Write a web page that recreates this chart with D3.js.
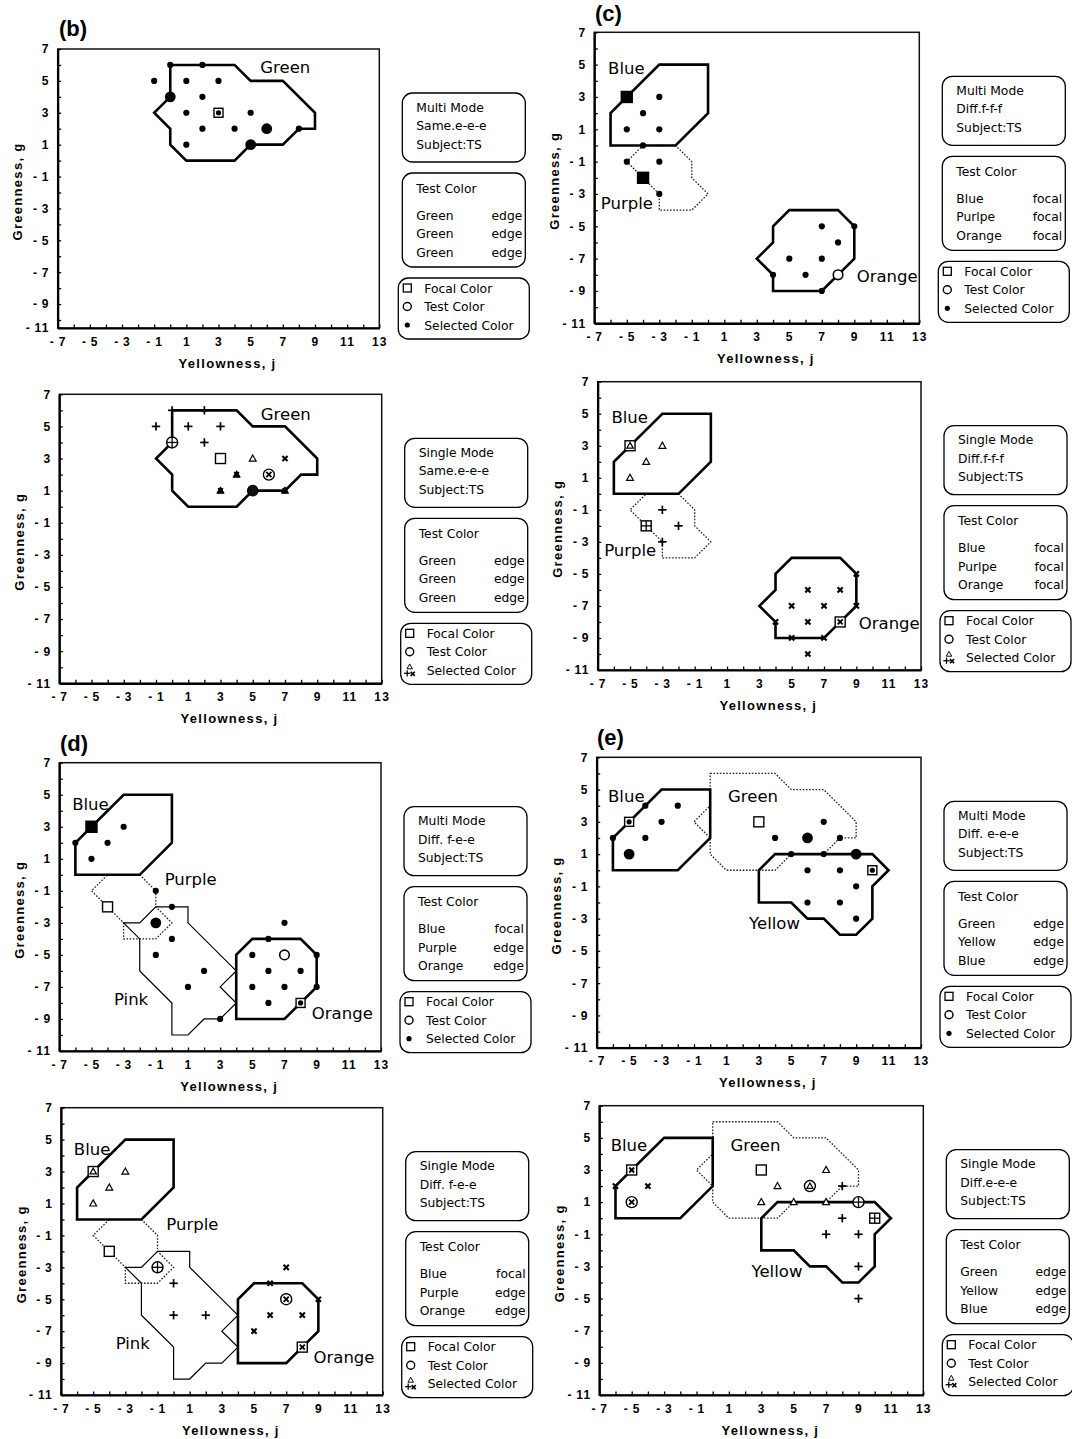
<!DOCTYPE html>
<html><head><meta charset="utf-8">
<script src="https://cdn.jsdelivr.net/npm/d3@7"></script>
<style>
body{margin:0;background:#fff;}
svg{display:block;}
</style></head><body>
<svg id="fig" width="1072" height="1439"></svg>
<script>
// ---------------- DATA ----------------
const X_TICKS = d3.range(-7, 14);                 // every integer on j axis
const X_TICK_LABELS = [-7,-5,-3,-1,1,3,5,7,9,11,13];
const Y_TICK_LABELS = [7,5,3,1,-1,-3,-5,-7,-9,-11];

// colour-category regions (j, g)
const GREEN_REGION  = [[0,6],[4,6],[5,5],[7,5],[9,3],[9,2],[8,2],[7,1],[5,1],[4,0],[1,0],[0,1],[0,2],[-1,3],[0,4]];
const BLUE_REGION   = [[-3,5],[0,5],[0,2],[-2,0],[-6,0],[-6,2]];
const PURPLE_REGION = [[-4,0],[-2,0],[-1,-1],[-1,-2],[0,-3],[-1,-4],[-3,-4],[-3,-3],[-4,-2],[-5,-1]];
const ORANGE_REGION = [[5,-4],[8,-4],[9,-5],[9,-7],[7,-9],[4,-9],[4,-8],[3,-7],[4,-6],[4,-5]];
const ORANGE_REGION_D = [[5,-4],[8,-4],[9,-5],[9,-7],[7,-9],[4,-9],[4,-5]];
const PINK_REGION   = [[-1,-2],[1,-2],[1,-3],[4,-6],[3,-7],[4,-8],[3,-9],[2,-9],[1,-10],[0,-10],[0,-8],[-2,-6],[-2,-4],[-3,-3],[-2,-3]];
const YELLOW_REGION = [[4,1],[10,1],[11,0],[10,-1],[10,-3],[9,-4],[8,-4],[7,-3],[6,-3],[5,-2],[3,-2],[3,0]];

// points: [j, g, marker]
const POINTS_B_MULTI = [[0,6,'dot'],[2,6,'dot'],[-1,5,'dot'],[1,5,'dot'],[3,5,'dot'],[0,4,'big'],[2,4,'dot'],[1,3,'dot'],[3,3,'sqdot'],[5,3,'dot'],[2,2,'dot'],[4,2,'dot'],[6,2,'big'],[8,2,'dot'],[1,1,'dot'],[5,1,'big']];
const POINTS_B_SINGLE = [[0,6,'plus'],[2,6,'plus'],[-1,5,'plus'],[1,5,'plus'],[3,5,'plus'],[2,4,'plus'],[0,4,'ringplus'],[3,3,'sq'],[5,3,'tri'],[7,3,'x'],[4,2,'trix'],[6,2,'ringx'],[3,1,'trix'],[5,1,'ringdark'],[7,1,'trix']];
const POINTS_C_MULTI = [[-5,3,'sqfill'],[-3,3,'dot'],[-4,2,'dot'],[-5,1,'dot'],[-3,1,'dot'],[-4,0,'dot'],[-5,-1,'dot'],[-3,-1,'dot'],[-4,-2,'sqfill'],[-3,-3,'dot'],[7,-5,'dot'],[9,-5,'dot'],[8,-6,'dot'],[5,-7,'dot'],[7,-7,'dot'],[4,-8,'dot'],[6,-8,'dot'],[8,-8,'ring'],[7,-9,'dot']];
const POINTS_C_SINGLE = [[-5,3,'sqtri'],[-3,3,'tri'],[-4,2,'tri'],[-5,1,'tri'],[-3,-1,'plus'],[-4,-2,'sqplus'],[-2,-2,'plus'],[-3,-3,'plus'],[9,-5,'x'],[6,-6,'x'],[8,-6,'x'],[5,-7,'x'],[7,-7,'x'],[9,-7,'x'],[4,-8,'x'],[6,-8,'x'],[8,-8,'sqx'],[5,-9,'x'],[7,-9,'x'],[6,-10,'x']];
const POINTS_D_MULTI = [[-5,3,'sqfill'],[-6,2,'dot'],[-4,2,'dot'],[-3,3,'dot'],[-5,1,'dot'],[-1,-1,'dot'],[-4,-2,'sq'],[-1,-3,'big'],[0,-2,'dot'],[0,-4,'dot'],[-1,-5,'dot'],[2,-6,'dot'],[1,-7,'dot'],[3,-9,'dot'],[7,-3,'dot'],[6,-4,'dot'],[5,-5,'dot'],[7,-5,'ring'],[9,-5,'dot'],[6,-6,'dot'],[8,-6,'dot'],[5,-7,'dot'],[7,-7,'dot'],[9,-7,'dot'],[6,-8,'dot'],[8,-8,'sqdot']];
const POINTS_D_SINGLE = [[-5,3,'sqtri'],[-3,3,'tri'],[-4,2,'tri'],[-5,1,'tri'],[-4,-2,'sq'],[-1,-3,'ringplus'],[0,-4,'plus'],[0,-6,'plus'],[2,-6,'plus'],[7,-3,'x'],[6,-4,'x'],[7,-5,'ringx'],[9,-5,'x'],[6,-6,'x'],[8,-6,'x'],[5,-7,'x'],[8,-8,'sqx']];
const POINTS_E_MULTI = [[-6,2,'dot'],[-4,4,'dot'],[-5,3,'sqdot'],[-3,3,'dot'],[-2,4,'dot'],[-4,2,'dot'],[-5,1,'big'],[3,3,'sq'],[4,2,'dot'],[6,2,'big'],[7,3,'dot'],[8,2,'dot'],[5,1,'dot'],[7,1,'dot'],[9,1,'big'],[6,0,'dot'],[8,0,'dot'],[10,0,'sqdot'],[9,-1,'dot'],[6,-2,'dot'],[8,-2,'dot'],[9,-3,'dot']];
const POINTS_E_SINGLE = [[-5,3,'sqx'],[-6,2,'x'],[-4,2,'x'],[-5,1,'ringx'],[3,3,'sq'],[4,2,'tri'],[3,1,'tri'],[6,2,'ringtri'],[7,3,'tri'],[5,1,'tri'],[7,1,'tri'],[8,2,'plus'],[9,1,'ringplus'],[8,0,'plus'],[10,0,'sqplus'],[7,-1,'plus'],[9,-1,'plus'],[9,-3,'plus'],[9,-5,'plus']];

// region name labels [text, j, g(baseline)]
const LABELS_B1 = [["Green",5.6,5.5]];
const LABELS_B2 = [["Green",5.5,5.4]];
const LABELS_C  = [["Blue",-6.15,4.4],["Purple",-6.6,-3.9],["Orange",9.15,-8.45]];
const LABELS_D  = [["Blue",-6.2,4.05],["Purple",-0.45,-0.65],["Pink",-3.6,-8.1],["Orange",8.7,-9.0]];
const LABELS_E  = [["Blue",-6.3,4.2],["Green",1.1,4.2],["Yellow",2.4,-3.67]];

// legend texts
const INFO_B_MULTI  = ["Multi Mode","Same.e-e-e","Subject:TS"];
const INFO_B_SINGLE = ["Single Mode","Same.e-e-e","Subject:TS"];
const INFO_C_MULTI  = ["Multi Mode","Diff.f-f-f","Subject:TS"];
const INFO_C_SINGLE = ["Single Mode","Diff.f-f-f","Subject:TS"];
const INFO_D_MULTI  = ["Multi Mode","Diff. f-e-e","Subject:TS"];
const INFO_D_SINGLE = ["Single Mode","Diff. f-e-e","Subject:TS"];
const INFO_E_MULTI  = ["Multi Mode","Diff. e-e-e","Subject:TS"];
const INFO_E_SINGLE = ["Single Mode","Diff.e-e-e","Subject:TS"];
const TEST_B = [["Green","edge"],["Green","edge"],["Green","edge"]];
const TEST_C = [["Blue","focal"],["Purlpe","focal"],["Orange","focal"]];
const TEST_D = [["Blue","focal"],["Purple","edge"],["Orange","edge"]];
const TEST_E = [["Green","edge"],["Yellow","edge"],["Blue","edge"]];
const KEY_LABELS = ["Focal Color","Test Color","Selected Color"];
const PANEL_LETTERS = ["(b)","(c)","(d)","(e)"];
const X_TITLE = "Yellowness, j";
const Y_TITLE = "Greenness, g";

// ---------------- LAYOUT ----------------
const layout = {
  b1:{x0:57.7,x1:379.3,yTop:49,yBot:328,yMin:-10.5},
  b2:{x0:59.3,x1:381.7,yTop:394.3,yBot:683.3,yMin:-11},
  c1:{x0:594.3,x1:919.3,yTop:32.3,yBot:323.3,yMin:-11},
  c2:{x0:597.7,x1:921,yTop:381.7,yBot:670,yMin:-11},
  d1:{x0:59.3,x1:381,yTop:762.7,yBot:1051,yMin:-11},
  d2:{x0:61,x1:382.7,yTop:1107.7,yBot:1395,yMin:-11},
  e1:{x0:596.7,x1:921,yTop:757.3,yBot:1047.7,yMin:-11},
  e2:{x0:599.3,x1:923.3,yTop:1105.7,yBot:1395,yMin:-11}
};
const letterPos = [[59,36],[595,21],[60,751],[597,745]];

const THICK = {stroke:'#000', width:2.6, dash:null};
const DOTTED = {stroke:'#222', width:1.3, dash:'1.6,1.6'};
const THIN = {stroke:'#000', width:1.2, dash:null};

const panels = [
  {id:'b1', regions:[[GREEN_REGION,THICK]], labels:LABELS_B1, pts:POINTS_B_MULTI, info:INFO_B_MULTI, test:TEST_B, single:false},
  {id:'b2', regions:[[GREEN_REGION,THICK]], labels:LABELS_B2, pts:POINTS_B_SINGLE, info:INFO_B_SINGLE, test:TEST_B, single:true},
  {id:'c1', regions:[[PURPLE_REGION,DOTTED],[BLUE_REGION,THICK],[ORANGE_REGION,THICK]], labels:LABELS_C, pts:POINTS_C_MULTI, info:INFO_C_MULTI, test:TEST_C, single:false},
  {id:'c2', regions:[[PURPLE_REGION,DOTTED],[BLUE_REGION,THICK],[ORANGE_REGION,THICK]], labels:LABELS_C, pts:POINTS_C_SINGLE, info:INFO_C_SINGLE, test:TEST_C, single:true},
  {id:'d1', regions:[[PURPLE_REGION,DOTTED],[PINK_REGION,THIN],[BLUE_REGION,THICK],[ORANGE_REGION_D,THICK]], labels:LABELS_D, pts:POINTS_D_MULTI, info:INFO_D_MULTI, test:TEST_D, single:false},
  {id:'d2', regions:[[PURPLE_REGION,DOTTED],[PINK_REGION,THIN],[BLUE_REGION,THICK],[ORANGE_REGION_D,THICK]], labels:LABELS_D, pts:POINTS_D_SINGLE, info:INFO_D_SINGLE, test:TEST_D, single:true},
  {id:'e1', regions:[[GREEN_REGION,DOTTED],[BLUE_REGION,THICK],[YELLOW_REGION,THICK]], labels:LABELS_E, pts:POINTS_E_MULTI, info:INFO_E_MULTI, test:TEST_E, single:false},
  {id:'e2', regions:[[GREEN_REGION,DOTTED],[BLUE_REGION,THICK],[YELLOW_REGION,THICK]], labels:LABELS_E, pts:POINTS_E_SINGLE, info:INFO_E_SINGLE, test:TEST_E, single:true}
];

const SANS = "'DejaVu Sans', Verdana, sans-serif";
const BOLD = "'Liberation Sans', Arial, sans-serif";
const svg = d3.select('#fig');
const lab = v => v < 0 ? "-\u2009" + (-v) : String(v);

function marker(g, type, cx, cy, scale) {
  const m = g.append('g').attr('transform', `translate(${cx},${cy})` + (scale ? ` scale(${scale})` : ''));
  const ln = (x1,y1,x2,y2,w) => m.append('line').attr('x1',x1).attr('y1',y1).attr('x2',x2).attr('y2',y2).attr('stroke','#000').attr('stroke-width',w);
  const tri = (s, fill, w) => m.append('path').attr('d',`M0,${-s}L${s*0.95},${s*0.7}L${-s*0.95},${s*0.7}Z`).attr('fill',fill).attr('stroke','#000').attr('stroke-width',w);
  const plus = (s,w) => { ln(-s,0,s,0,w); ln(0,-s,0,s,w); };
  const cross = (s,w) => { ln(-s,-s,s,s,w); ln(-s,s,s,-s,w); };
  const square = (s, fill) => m.append('rect').attr('x',-s/2).attr('y',-s/2).attr('width',s).attr('height',s).attr('fill',fill).attr('stroke','#000').attr('stroke-width',1.4);
  const circ = (r, fill, w) => m.append('circle').attr('r',r).attr('fill',fill).attr('stroke','#000').attr('stroke-width',w);
  switch (type) {
    case 'dot': circ(3.1,'#000',0); break;
    case 'big': circ(5.4,'#000',0); break;
    case 'ring': circ(4.8,'#fff',1.6); break;
    case 'ringdark': circ(5.2,'#111',1.2); break;
    case 'sq': square(10,'#fff'); break;
    case 'sqfill': square(11,'#000'); break;
    case 'sqdot': square(9,'#fff'); circ(2.6,'#000',0); break;
    case 'tri': tri(3.6,'#fff',1.2); break;
    case 'trix': tri(3.8,'#000',1); cross(2.4,1.6); break;
    case 'plus': plus(4.2,1.7); break;
    case 'x': cross(2.6,2.1); break;
    case 'ringplus': circ(5.5,'#fff',1.4); plus(5.5,1.3); break;
    case 'ringx': circ(5.5,'#fff',1.4); cross(2.6,1.8); break;
    case 'ringtri': circ(5.5,'#fff',1.4); tri(3.2,'#fff',1.2); break;
    case 'sqtri': square(10,'#fff'); tri(3.4,'#fff',1.2); break;
    case 'sqplus': square(10,'#fff'); plus(5,1.3); break;
    case 'sqx': square(10,'#fff'); cross(2.5,1.9); break;
  }
}

function drawPanel(p) {
  const L = layout[p.id];
  const x = d3.scaleLinear().domain([-7,13]).range([L.x0, L.x1]);
  const y = d3.scaleLinear().domain([L.yMin,7]).range([L.yBot, L.yTop]);
  const g = svg.append('g');

  // frame
  g.append('rect').attr('x',x(-7)).attr('y',y(7)).attr('width',x(13)-x(-7)).attr('height',y(L.yMin)-y(7))
    .attr('fill','none').attr('stroke','#111').attr('stroke-width',1.5);

  // regions
  const line = d3.line().x(d=>x(d[0])).y(d=>y(d[1])).curve(d3.curveLinearClosed);
  p.regions.forEach(([pts, st]) => {
    g.append('path').datum(pts).attr('d', line).attr('fill','none')
      .attr('stroke', st.stroke).attr('stroke-width', st.width)
      .attr('stroke-linejoin','miter').attr('stroke-dasharray', st.dash);
  });

  // region labels
  p.labels.forEach(([t,j,gv]) => {
    g.append('text').attr('x',x(j)).attr('y',y(gv)).text(t)
      .attr('font-family',SANS).attr('font-size',16.5).attr('fill','#000');
  });

  // points
  p.pts.forEach(([j,gv,type]) => marker(g, type, x(j), y(gv)));

  // axes
  const yVals = L.yMin === -11 ? d3.range(-11,8) : d3.range(-10,8).concat([L.yMin]);
  const yFmt = v => (v === L.yMin) ? lab(-11) : (Y_TICK_LABELS.includes(v) ? lab(v) : "");
  const ya = g.append('g').attr('transform',`translate(${x(-7)},0)`)
    .call(d3.axisLeft(y).tickValues(yVals).tickFormat(yFmt).tickSizeInner(-3.5).tickSizeOuter(0).tickPadding(8));
  const xa = g.append('g').attr('transform',`translate(0,${y(L.yMin)})`)
    .call(d3.axisBottom(x).tickValues(X_TICKS).tickFormat(v => X_TICK_LABELS.includes(v) ? lab(v) : "")
      .tickSizeInner(-3.5).tickSizeOuter(0).tickPadding(9));
  [ya, xa].forEach(a => {
    a.select('.domain').attr('stroke','#000').attr('stroke-width',2.2);
    a.selectAll('.tick line').attr('stroke','#000').attr('stroke-width',1.3);
    a.selectAll('text').attr('font-family',BOLD).attr('font-weight','bold').attr('font-size',12)
      .attr('letter-spacing','1.2px').attr('fill','#000');
  });

  // axis titles
  g.append('text').attr('x',(x(-7)+x(13))/2 + 9).attr('y',y(L.yMin)+39.5).attr('text-anchor','middle')
    .attr('font-family',BOLD).attr('font-weight','bold').attr('font-size',13).attr('letter-spacing','1.3px').text(X_TITLE);
  const yc = (y(7)+y(L.yMin))/2 + 3;
  g.append('text').attr('transform',`translate(${x(-7)-40},${yc}) rotate(-90)`).attr('text-anchor','middle')
    .attr('dy','0.35em')
    .attr('font-family',BOLD).attr('font-weight','bold').attr('font-size',13).attr('letter-spacing','1.3px').text(Y_TITLE);

  // legend boxes (layout relative to plot)
  const R = x(13), T = y(7);
  const box = (x0,y0,w,h) => g.append('rect').attr('x',x0).attr('y',y0).attr('width',w).attr('height',h)
      .attr('rx',10).attr('ry',10).attr('fill','none').attr('stroke','#000').attr('stroke-width',1.3);
  const txt = (tx,ty,t,anchor) => g.append('text').attr('x',tx).attr('y',ty).attr('text-anchor',anchor||'start')
      .attr('font-family',SANS).attr('font-size',12.3).attr('fill','#000').text(t);

  box(R+23, T+44, 123, 69);
  p.info.forEach((t,i) => txt(R+37, T+62.5+i*18.5, t));

  box(R+23, T+124, 123, 94);
  txt(R+37, T+143.5, "Test Color");
  p.test.forEach(([a,b],i) => { txt(R+37, T+170.5+i*18.5, a); txt(R+143, T+170.5+i*18.5, b, 'end'); });

  // key box
  const kg = g.append('g');
  const clipId = 'clip-' + p.id;
  g.append('clipPath').attr('id',clipId).append('rect').attr('x',R+19).attr('y',T+229).attr('width',131).attr('height',61);
  const kt = kg.append('g').attr('clip-path',`url(#${clipId})`);
  KEY_LABELS.forEach((t,i) => kt.append('text').attr('x',R+45).attr('y',T+243.5+i*18.5)
      .attr('font-family',SANS).attr('font-size',12.3).attr('fill','#000').text(t));
  box(R+19, T+229, 131, 61);
  const sx = R+28;
  kg.append('rect').attr('x',sx-4).attr('y',T+239-4).attr('width',8).attr('height',8).attr('fill','none').attr('stroke','#000').attr('stroke-width',1.3);
  kg.append('circle').attr('cx',sx).attr('cy',T+257.5).attr('r',4).attr('fill','none').attr('stroke','#000').attr('stroke-width',1.4);
  if (!p.single) {
    kg.append('circle').attr('cx',sx).attr('cy',T+276).attr('r',2.6).attr('fill','#000');
  } else {
    marker(kg,'tri',sx,T+272.5,0.8);
    marker(kg,'plus',sx-2.5,T+279,0.75);
    marker(kg,'x',sx+3,T+279.5,0.8);
  }
}

panels.forEach(drawPanel);

// panel letters
PANEL_LETTERS.forEach((t,i) => svg.append('text').attr('x',letterPos[i][0]).attr('y',letterPos[i][1])
  .attr('font-family',BOLD).attr('font-weight','bold').attr('font-size',22).text(t));
</script></body></html>
